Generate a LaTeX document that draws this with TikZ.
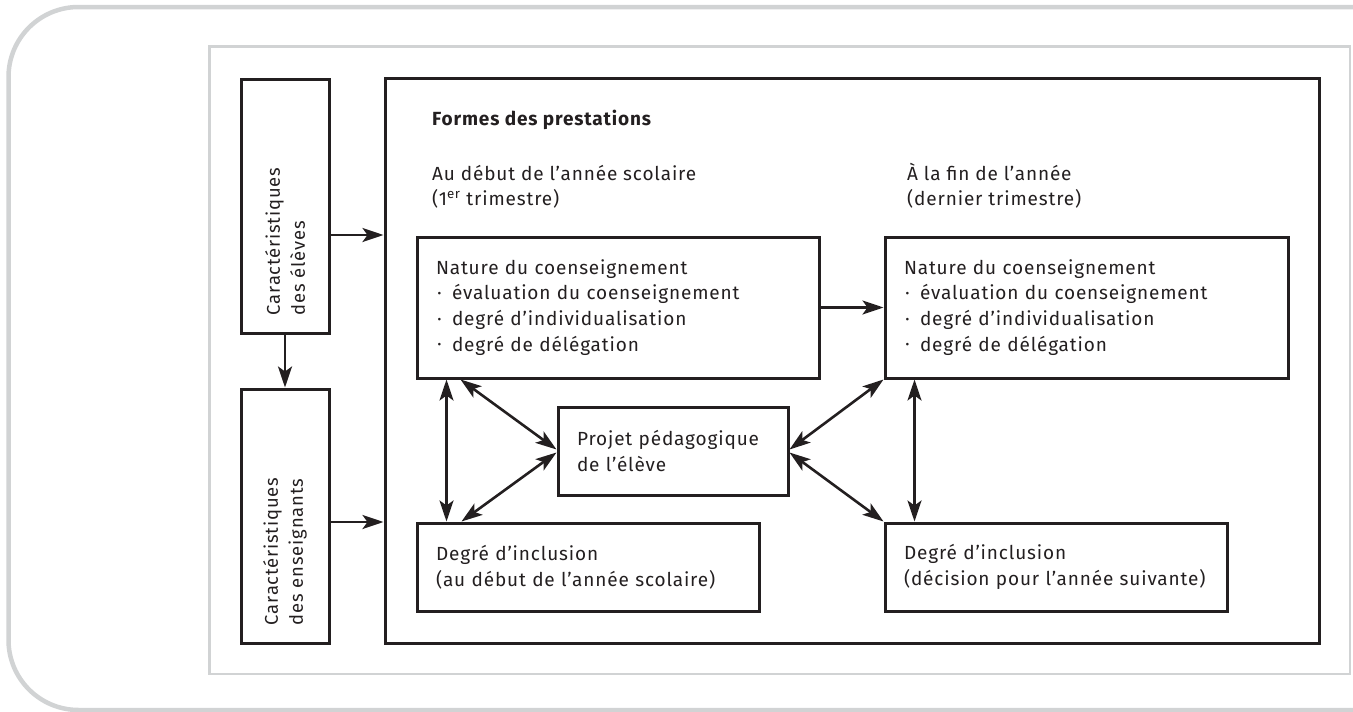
\documentclass[tikz,border=0pt]{standalone}
\usepackage{fontspec}
\setmainfont{Fira Sans}[LetterSpace=4.5]
\usetikzlibrary{arrows.meta,calc}
\definecolor{ink}{HTML}{231F20}
\definecolor{framegray}{HTML}{D1D3D4}
\newcommand\bul{\makebox[16pt][l]{\hspace{1.5pt}\raisebox{0.14em}{\scalebox{0.6}{•}}}}
\begin{document}
\begin{tikzpicture}[x=1pt,y=-1pt,
  font=\fontsize{19}{25.8}\selectfont,
  box/.style={draw=ink, line width=3pt, inner sep=0pt, text=ink},
  tbox/.style={box, align=left, inner xsep=19pt},
  sidebox/.style={box, minimum width=88pt, minimum height=254pt, font=\fontsize{18.4}{25}\selectfont},
  tip/.tip={Stealth[length=21pt,width=14pt,inset=5pt]},
  arr/.style={draw=ink, line width=2.6pt, -tip},
  darr/.style={draw=ink, line width=2.6pt, tip-tip},
  txt/.style={anchor=base west, inner sep=0pt, text=ink}]
\useasboundingbox (0,0) rectangle (1353,712);
\clip (0,0) rectangle (1353,712);
% frames
\draw[framegray, line width=4.5pt, rounded corners=70pt] (1430,7) -- (8.5,7) -- (8.5,710) -- (1430,710);
\draw[framegray, line width=2.5pt] (209.5,46.5) rectangle (1350,674);
% left boxes
\node[sidebox] (elev) at (285,206)
  {\rotatebox{90}{\parbox{218pt}{\raggedright Caractéristiques\\des élèves}}};
\node[sidebox] (ens) at (285,516)
  {\rotatebox{90}{\parbox{218pt}{\raggedright Caractéristiques\\des enseignants}}};
% main box
\node[box, minimum width=934pt, minimum height=565pt] (main) at (852,360.5) {};
% headings
\node[txt, font=\fontsize{19}{25.8}\selectfont\bfseries] (title) at (432,125) {Formes des prestations};
\node[txt] (au1) at (432,180) {Au début de l’année scolaire};
\node[txt] (au2) at (432,205) {(1\textsuperscript{er} trimestre)};
\node[txt] (fin1) at (907,180) {À la fin de l’année};
\node[txt] (fin2) at (907,205) {(dernier trimestre)};
% inner boxes
\node[tbox, text width=364pt, minimum height=141pt] (natL) at (618,307.5)
  {Nature du coenseignement\\\bul évaluation du coenseignement\\\bul degré d’individualisation\\\bul degré de délégation};
\node[tbox, text width=365pt, minimum height=141pt] (natR) at (1086.5,307.5)
  {Nature du coenseignement\\\bul évaluation du coenseignement\\\bul degré d’individualisation\\\bul degré de délégation};
\node[tbox, text width=192pt, minimum height=88pt] (proj) at (673,451)
  {Projet pédagogique\\de l’élève};
\node[tbox, text width=304pt, minimum height=88pt] (degL) at (588,567)
  {Degré d’inclusion\\(au début de l’année scolaire)};
\node[tbox, text width=304pt, minimum height=88pt] (degR) at (1056,567)
  {Degré d’inclusion\\(décision pour l’année suivante)};
% connectors
\coordinate (a1) at ($(elev.east)+(0,29)$);
\coordinate (a2) at ($(ens.east)+(0,6)$);
\draw[arr] (a1) -- (a1 -| main.west);
\draw[arr] (a2) -- (a2 -| main.west);
\draw[arr] (elev) -- (ens);
\draw[arr] (natL.east) -- (natR.west);
\draw[darr] ([xshift=31pt]natL.south west) -- ([xshift=31pt]degL.north west);
\draw[darr] ([xshift=31pt]natR.south west) -- ([xshift=31pt]degR.north west);
\draw[darr] ([xshift=45pt]natL.south west) -- ([yshift=1.5pt]proj.west);
\draw[darr] ([xshift=46pt]degL.north west) -- ([yshift=-1.5pt]proj.west);
\draw[darr] (natR.south west) -- ([yshift=1.5pt]proj.east);
\draw[darr] (degR.north west) -- ([yshift=-1.5pt]proj.east);
\end{tikzpicture}
\end{document}
